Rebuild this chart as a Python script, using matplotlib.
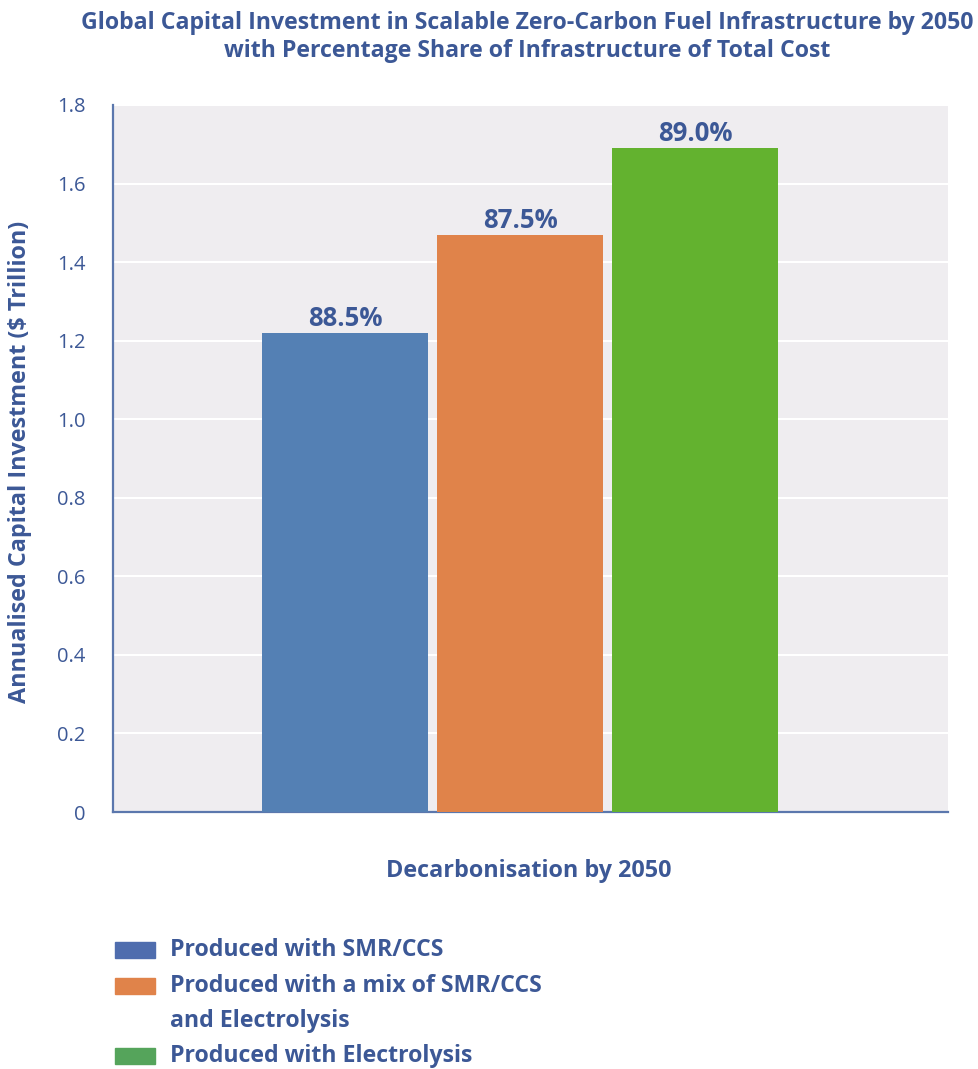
import matplotlib
matplotlib.use('Agg')
import matplotlib.pyplot as plt
from matplotlib.patches import Rectangle

# Data
scenarios = ['SMR/CCS', 'Mix', 'Electrolysis']
investment = [1.22, 1.47, 1.69]          # $ trillion per year
infra_share = ['88.5%', '87.5%', '89.0%']  # share of total cost
bar_colors = ['#5480b4', '#e0834a', '#63b22f']
legend_labels = ['Produced with SMR/CCS',
                 'Produced with a mix of SMR/CCS\nand Electrolysis',
                 'Produced with Electrolysis']
legend_colors = ['#4f6dae', '#e0834a', '#55a45b']
y_ticks = [0, 0.2, 0.4, 0.6, 0.8, 1.0, 1.2, 1.4, 1.6, 1.8]
y_ticklabels = ['0', '0.2', '0.4', '0.6', '0.8', '1.0', '1.2', '1.4', '1.6', '1.8']

TXT = '#3c5896'
W, H = 979, 1069
plt.rcParams['font.family'] = ['Open Sans', 'DejaVu Sans']

fig = plt.figure(figsize=(W / 100, H / 100), dpi=100)
ax = fig.add_axes([113 / W, 1 - 812 / H, 835 / W, 707 / H])
ax.set_facecolor('#efedf0')

x = range(len(investment))
bars = ax.bar(x, investment, width=0.95, color=bar_colors, zorder=3)
for b, lab in zip(bars, infra_share):
    ax.text(b.get_x() + b.get_width() / 2, b.get_height() + 0.002, lab,
            ha='center', va='bottom', fontsize=18.5, fontweight='bold', color=TXT)

ax.set_xlim(-1.326, 3.445)
ax.set_ylim(0, 1.8)
ax.set_yticks(y_ticks)
ax.set_yticklabels(y_ticklabels)
ax.set_xticks([])
ax.tick_params(axis='y', length=0, pad=20, labelsize=14.5, labelcolor=TXT)
ax.grid(axis='y', color='white', linewidth=1.5, zorder=1)
ax.set_axisbelow(True)
for s in ['top', 'right']:
    ax.spines[s].set_visible(False)
for s in ['left', 'bottom']:
    ax.spines[s].set_color('#5b77ad')
    ax.spines[s].set_linewidth(1.6)

fig.text(20 / W, 1 - 462 / H, 'Annualised Capital Investment ($ Trillion)', rotation=90,
         ha='center', va='center', fontsize=16.8, fontweight='bold', color=TXT)
fig.text(529 / W, 1 - 871 / H, 'Decarbonisation by 2050', ha='center', va='center',
         fontsize=16.8, fontweight='bold', color=TXT)

fig.text(527 / W, 1 - 37 / H,
         'Global Capital Investment in Scalable Zero-Carbon Fuel Infrastructure by 2050\n'
         'with Percentage Share of Infrastructure of Total Cost',
         ha='center', va='center', fontsize=16.7, fontweight='bold', color=TXT,
         linespacing=1.25)

# Legend drawn by hand so the swatch lines up with the first text line
rows = [950, 986, 1056]
for y, lab, col in zip(rows, legend_labels, legend_colors):
    fig.patches.append(Rectangle((115 / W, 1 - (y + 8) / H), 40 / W, 16 / H,
                                 transform=fig.transFigure, color=col))
    n = lab.count('\n')
    fig.text(170 / W, 1 - (y + n * 17.5) / H, lab, ha='left', va='center',
             fontsize=16.7, fontweight='bold', color=TXT, linespacing=1.64)

fig.savefig('out.png', dpi=100)
